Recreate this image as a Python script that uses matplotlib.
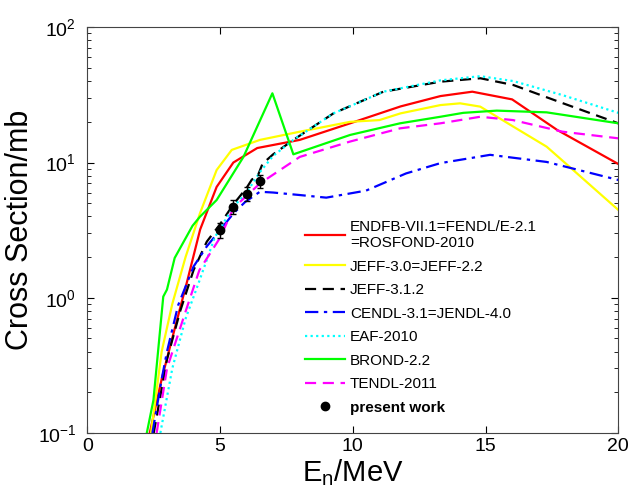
import numpy as np
import matplotlib
matplotlib.use('Agg')
import matplotlib.pyplot as plt

plt.rcParams['font.family'] = ['Liberation Sans', 'DejaVu Sans']
plt.rcParams['mathtext.fontset'] = 'custom'
plt.rcParams['mathtext.rm'] = 'Liberation Sans'
plt.rcParams['mathtext.it'] = 'Liberation Sans'

# evaluated data libraries, E (MeV) vs cross section (mb)
endfb_e = [2.35, 2.8, 3.25, 3.75, 4.25, 4.87, 5.5, 6.4, 8.0, 9.9, 11.8, 13.3, 14.5, 16.0, 17.7, 20.0]
endfb_xs = [0.1, 0.25, 0.55, 1.3, 3.2, 6.6, 10.0, 12.8, 14.7, 19.5, 26.0, 31.0, 33.4, 29.3, 17.4, 9.75]

jeff30_e = [2.4, 2.8, 3.2, 3.7, 4.24, 4.87, 5.44, 6.5, 8.0, 9.9, 11.0, 11.8, 13.3, 14.04, 14.8, 16.05, 17.3, 18.3, 20.0]
jeff30_xs = [0.1, 0.4, 0.9, 2.0, 4.2, 8.8, 12.4, 14.7, 16.9, 20.0, 20.6, 23.1, 26.6, 27.4, 25.9, 18.4, 13.1, 8.8, 4.46]

jeff312_e = [2.5, 3.0, 3.5, 4.0, 4.5, 5.0, 5.5, 6.0, 6.2, 6.4, 6.6, 7.0, 7.76, 9.27, 11.15, 13.3, 14.8, 16.05, 17.9, 20.0]
jeff312_xs = [0.1, 0.35, 0.8, 1.6, 2.6, 3.5, 4.9, 6.5, 7.5, 7.8, 9.8, 11.5, 14.7, 23.1, 33.4, 39.6, 42.0, 37.4, 27.5, 19.5]

cendl_e = [2.45, 2.8, 3.0, 3.42, 4.0, 4.5, 5.01, 5.5, 5.94, 6.5, 7.0, 8.0, 9.0, 10.5, 12.0, 13.3, 15.17, 17.3, 20.0]
cendl_xs = [0.1, 0.25, 0.4, 0.88, 1.7, 2.4, 3.18, 4.2, 5.1, 6.08, 6.0, 5.75, 5.5, 6.2, 8.3, 9.9, 11.4, 10.1, 7.43]

eaf_e = [2.75, 3.2, 3.7, 4.2, 4.8, 5.5, 6.0, 6.5, 7.0, 7.76, 9.27, 11.15, 13.3, 14.8, 16.05, 17.9, 20.0]
eaf_xs = [0.1, 0.3, 0.7, 1.3, 2.8, 4.7, 6.0, 8.5, 11.2, 14.7, 23.1, 33.4, 40.5, 43.5, 40.0, 31.5, 23.3]

brond_e = [2.24, 2.49, 2.86, 3.0, 3.29, 3.96, 4.24, 4.87, 5.88, 6.97, 7.76, 9.9, 11.78, 13.3, 14.16, 15.42, 17.3, 20.0]
brond_xs = [0.1, 0.175, 1.02, 1.15, 1.97, 3.4, 3.97, 5.28, 11.0, 32.5, 11.5, 16.0, 19.5, 21.8, 23.3, 24.2, 23.5, 19.5]

tendl_e = [2.61, 3.0, 3.69, 4.22, 5.01, 5.5, 6.5, 8.0, 9.9, 11.78, 13.3, 14.8, 16.03, 17.9, 20.0]
tendl_xs = [0.1, 0.3, 0.78, 1.6, 2.8, 4.6, 7.0, 11.0, 14.3, 17.9, 19.5, 21.8, 20.6, 16.9, 15.1]

# measurement
exp_e = [5.0, 5.5, 6.0, 6.5]
exp_xs = [3.17, 4.7, 5.9, 7.3]
exp_err = [0.38, 0.55, 0.7, 0.85]

fig = plt.figure(figsize=(6.31, 4.98), dpi=100)
ax = fig.add_axes([0.1384, 0.1305, 0.8415, 0.8147])

lw = 1.6
ax.plot(endfb_e, endfb_xs, color='#ff0000', lw=lw, label='ENDFB-VII.1=FENDL/E-2.1\n=ROSFOND-2010')
ax.plot(jeff30_e, jeff30_xs, color='#ffff00', lw=lw, label='JEFF-3.0=JEFF-2.2')
ax.plot(jeff312_e, jeff312_xs, color='black', lw=lw, ls=(0, (5, 3)), label='JEFF-3.1.2')
ax.plot(cendl_e, cendl_xs, color='#0000ff', lw=lw, ls=(0, (6, 2.5, 1.5, 2.5)), label='CENDL-3.1=JENDL-4.0')
ax.plot(eaf_e, eaf_xs, color='#00ffff', lw=lw, ls=(0, (1, 1.5)), label='EAF-2010')
ax.plot(brond_e, brond_xs, color='#00ff00', lw=lw, label='BROND-2.2')
ax.plot(tendl_e, tendl_xs, color='#ff00ff', lw=lw, ls=(0, (5, 3)), label='TENDL-2011')
ax.errorbar(exp_e, exp_xs, yerr=exp_err, fmt='none', ecolor='black',
            elinewidth=1, capsize=2)
ax.plot(exp_e, exp_xs, 'o', color='black', ms=6, label='present work')

ax.set_yscale('log')
ax.set_xlim(0, 20)
ax.set_ylim(0.1, 100)
ax.set_xticks([0, 5, 10, 15, 20])
ax.tick_params(which='both', direction='in', top=True, right=True, labelsize=14)
ax.tick_params(which='major', length=5)
ax.tick_params(which='minor', length=3)
ax.tick_params(axis='y', pad=8)
for s in ax.spines.values():
    s.set_color('#444444')
ax.set_xlabel('E$_n$/MeV', fontsize=21, labelpad=2)
ax.set_ylabel('Cross Section/mb', fontsize=22, labelpad=2)

leg = ax.legend(loc='upper left', bbox_to_anchor=(0.41, 0.525), frameon=False,
                fontsize=11, handlelength=2.6, handletextpad=0.33,
                labelspacing=0.62, borderaxespad=0, borderpad=0)
leg.get_texts()[-1].set_fontweight('bold')

fig.savefig('out.png', dpi=100)
